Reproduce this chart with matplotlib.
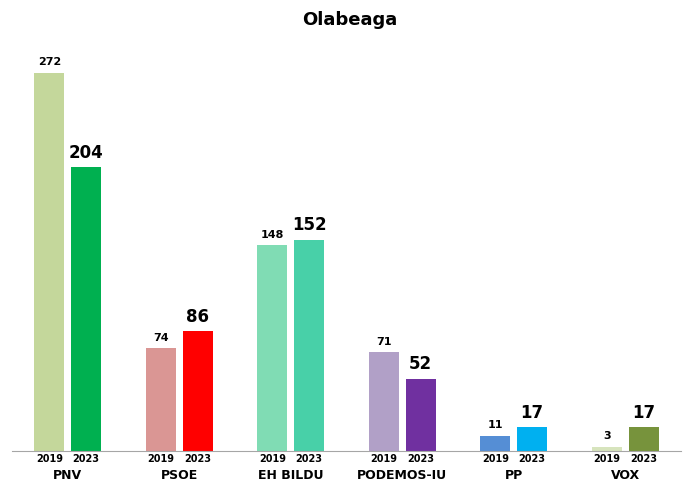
import matplotlib
matplotlib.use("Agg")
import matplotlib.pyplot as plt
import numpy as np

categories = ["PNV", "PSOE", "EH BILDU", "PODEMOS-IU", "PP", "VOX"]
v2019 = [272, 74, 148, 71, 11, 3]
v2023 = [204, 86, 152, 52, 17, 17]
c2019 = ["#c4d79b", "#da9694", "#80dcb4", "#b1a0c7", "#558ed5", "#d7e4bd"]
c2023 = ["#00b050", "#ff0000", "#48d0a8", "#7030a0", "#00b0f0", "#77933c"]
years = ["2019", "2023"]

fig = plt.figure(figsize=(7, 4.96), dpi=100)
ax = fig.add_axes([12/700, 45/496, 669/700, 417/496])
x = np.arange(len(categories))
off, w = 0.165, 0.27
ax.bar(x - off, v2019, w, color=c2019)
ax.bar(x + off, v2023, w, color=c2023)
for i in range(len(categories)):
    ax.text(x[i] - off, v2019[i] + 4, str(v2019[i]), ha="center", va="bottom", fontsize=8, fontweight="bold")
    ax.text(x[i] + off, v2023[i] + 4, str(v2023[i]), ha="center", va="bottom", fontsize=12, fontweight="bold")
    ax.text(x[i] - off, -2, years[0], ha="center", va="top", fontsize=7, fontweight="bold")
    ax.text(x[i] + off, -2, years[1], ha="center", va="top", fontsize=7, fontweight="bold")
    ax.text(x[i], -13, categories[i], ha="center", va="top", fontsize=9, fontweight="bold")
ax.set_xlim(-0.5, 5.5)
ax.set_ylim(0, 300)
for s in ["top", "right", "left"]:
    ax.spines[s].set_visible(False)
ax.spines["bottom"].set_color("#a6a6a6")
ax.set_xticks([]); ax.set_yticks([])
fig.text(0.5, 1 - 20/496, "Olabeaga", ha="center", va="center", fontsize=13, fontweight="bold")
fig.savefig("out.png", dpi=100)
